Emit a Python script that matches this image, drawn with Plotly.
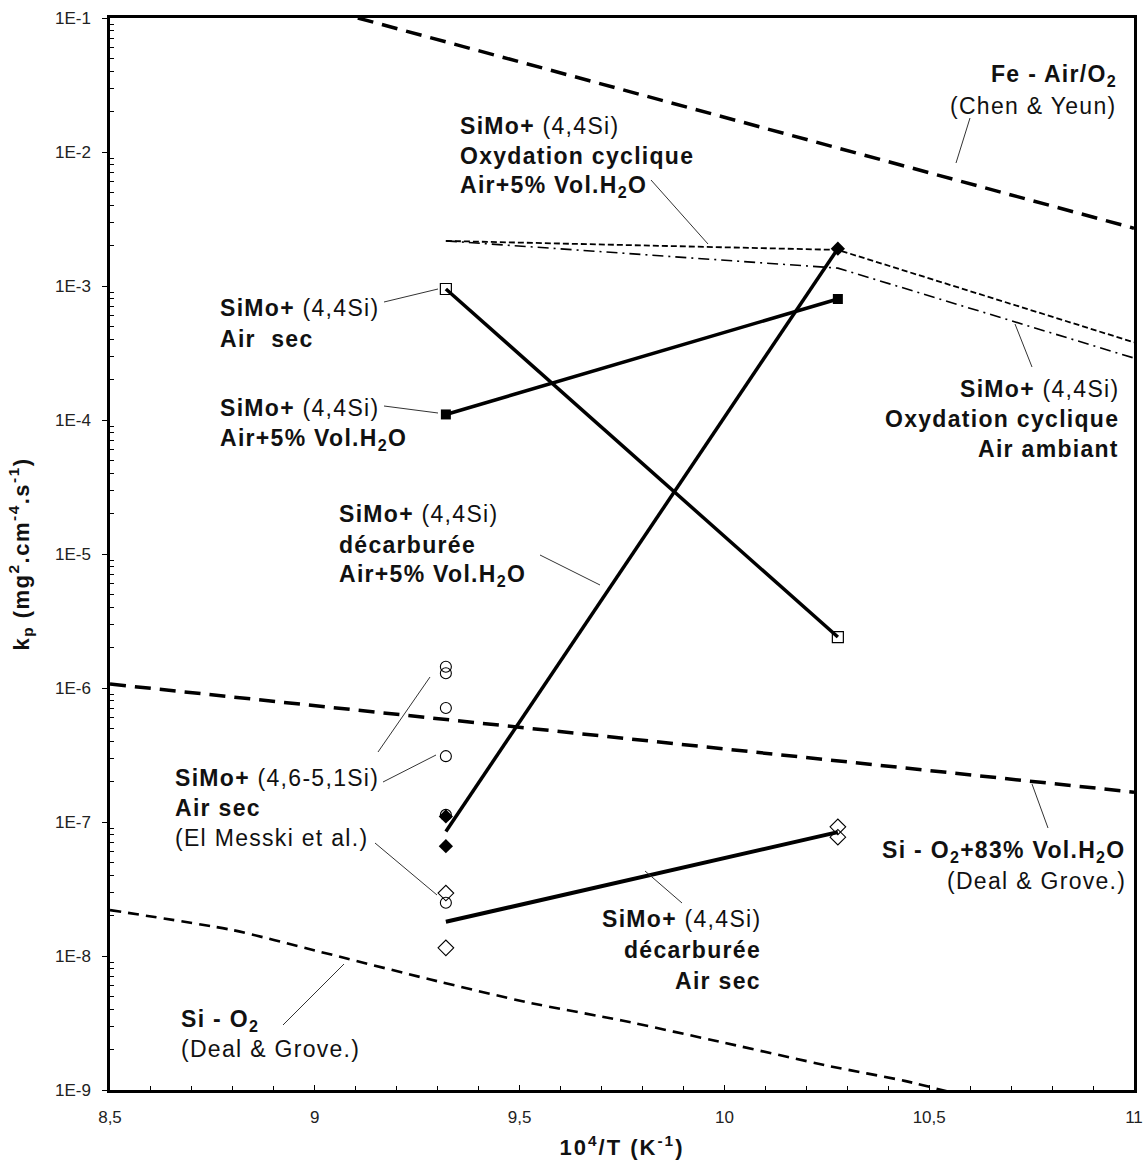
import plotly.graph_objects as go

# ---------------- data ----------------
x_T = [9.32, 10.277]   # 10^4/T for 800 and 700 °C

airsec_y = [9.5e-4, 2.4e-6]            # SiMo+ (4,4Si) Air sec (open squares)
airh2o_y = [1.1e-4, 8.0e-4]            # SiMo+ (4,4Si) Air+5% H2O (filled squares)

decarb_h2o_x = [9.32, 9.32, 10.277]    # décarburée Air+5% H2O (filled diamonds)
decarb_h2o_y = [1.1e-7, 6.6e-8, 1.9e-3]
decarb_h2o_fit = [8.5e-8, 1.9e-3]

decarb_sec_x = [9.32, 9.32, 10.277, 10.277]   # décarburée Air sec (open diamonds)
decarb_sec_y = [2.95e-8, 1.15e-8, 9.2e-8, 7.7e-8]
decarb_sec_fit = [1.8e-8, 8.4e-8]

messki_x = [9.32, 9.32, 9.32, 9.32, 9.32, 9.32]   # El Messki et al. (open circles)
messki_y = [1.44e-6, 1.29e-6, 7.1e-7, 3.1e-7, 1.13e-7, 2.5e-8]

cyc_x = [9.32, 10.277, 11.0]
cyc_h2o_y = [2.17e-3, 1.86e-3, 3.8e-4]     # Oxydation cyclique Air+5% H2O
cyc_amb_y = [2.17e-3, 1.36e-3, 2.9e-4]     # Oxydation cyclique Air ambiant

fe_x = [9.105, 11.0]                        # Fe - Air/O2 (Chen & Yeun)
fe_y = [1.0e-1, 2.7e-3]

si_h2o_x = [8.5, 11.0]                      # Si - O2+83% H2O (Deal & Grove)
si_h2o_y = [1.07e-6, 1.67e-7]

si_o2_x = [8.5, 8.8, 9.0, 9.28, 9.52, 9.75, 10.0, 10.26, 10.44, 10.56]   # Si - O2 (Deal & Grove)
si_o2_y = [2.2e-8, 1.56e-8, 1.1e-8, 6.7e-9, 4.5e-9, 3.3e-9, 2.25e-9, 1.5e-9, 1.17e-9, 9.5e-10]

x_ticks = [8.5, 9.0, 9.5, 10.0, 10.5, 11.0]
x_ticktext = ["8,5", "9", "9,5", "10", "10,5", "11"]
y_ticks = [1e-9, 1e-8, 1e-7, 1e-6, 1e-5, 1e-4, 1e-3, 1e-2, 1e-1]
y_ticktext = ["1E-9", "1E-8", "1E-7", "1E-6", "1E-5", "1E-4", "1E-3", "1E-2", "1E-1"]
y_minor = [m * 10.0 ** e for e in range(-9, -1) for m in range(2, 10)]

# ---------------- figure ----------------
fig = go.Figure()
K = "black"

# reference lines
fig.add_trace(go.Scatter(x=fe_x, y=fe_y, mode="lines",
                         line=dict(color=K, width=3.5, dash="16px,9px")))
fig.add_trace(go.Scatter(x=si_h2o_x, y=si_h2o_y, mode="lines",
                         line=dict(color=K, width=3.5, dash="16px,9px")))
fig.add_trace(go.Scatter(x=si_o2_x, y=si_o2_y, mode="lines", line_shape="spline",
                         line=dict(color=K, width=2.6, dash="11px,7px", smoothing=0.6)))
fig.add_trace(go.Scatter(x=cyc_x, y=cyc_h2o_y, mode="lines",
                         line=dict(color=K, width=1.8, dash="6px,3px")))
fig.add_trace(go.Scatter(x=cyc_x, y=cyc_amb_y, mode="lines",
                         line=dict(color=K, width=1.6, dash="11px,5px,2px,5px")))

# experimental series
fig.add_trace(go.Scatter(x=x_T, y=airsec_y, mode="lines+markers",
                         line=dict(color=K, width=3.5),
                         marker=dict(symbol="square-open", size=11, color=K,
                                     line=dict(width=1.2))))
fig.add_trace(go.Scatter(x=x_T, y=airh2o_y, mode="lines+markers",
                         line=dict(color=K, width=3.5),
                         marker=dict(symbol="square", size=10, color=K)))
fig.add_trace(go.Scatter(x=x_T, y=decarb_h2o_fit, mode="lines",
                         line=dict(color=K, width=3.5)))
fig.add_trace(go.Scatter(x=decarb_h2o_x, y=decarb_h2o_y, mode="markers",
                         marker=dict(symbol="diamond", size=11, color=K)))
fig.add_trace(go.Scatter(x=x_T, y=decarb_sec_fit, mode="lines",
                         line=dict(color=K, width=4)))
fig.add_trace(go.Scatter(x=decarb_sec_x, y=decarb_sec_y, mode="markers",
                         marker=dict(symbol="diamond-open", size=12, color=K,
                                     line=dict(width=1.1))))
fig.add_trace(go.Scatter(x=messki_x, y=messki_y, mode="markers",
                         marker=dict(symbol="circle-open", size=11, color=K,
                                     line=dict(width=1.1))))

# ---------------- annotations ----------------
L, T, W, H = 110, 18, 1024, 1072
def px(p):
    return (p - L) / W
def py(p):
    return (T + H - p) / H

FONT = "Liberation Sans, Arial, sans-serif"
FS = 23
LS = "letter-spacing:1.3px"
def sp(t):
    return "<span style='%s'>%s</span>" % (LS, t)

H2O = "H<sub>2</sub>O"
blocks = [
    (1119, "right", [(76, "<b>Fe - Air/O<sub>2</sub></b>"), (106, "(Chen & Yeun)")]),
    (458, "left", [(126, "<b>SiMo+</b> (4,4Si)"), (156, "<b>Oxydation cyclique</b>"),
                   (186, "<b>Air+5% Vol." + H2O + "</b>")]),
    (218, "left", [(308, "<b>SiMo+</b> (4,4Si)"), (339, "<b>Air  sec</b>")]),
    (218, "left", [(408, "<b>SiMo+</b> (4,4Si)"), (439, "<b>Air+5% Vol." + H2O + "</b>")]),
    (1121, "right", [(389, "<b>SiMo+</b> (4,4Si)"), (419, "<b>Oxydation cyclique</b>"),
                     (449, "<b>Air ambiant</b>")]),
    (337, "left", [(514, "<b>SiMo+</b> (4,4Si)"), (545, "<b>décarburée</b>"),
                   (575, "<b>Air+5% Vol." + H2O + "</b>")]),
    (173, "left", [(778, "<b>SiMo+</b> (4,6-5,1Si)"), (808, "<b>Air sec</b>"),
                   (838, "(El Messki et al.)")]),
    (763, "right", [(919, "<b>SiMo+</b> (4,4Si)"), (950, "<b>décarburée</b>"),
                    (981, "<b>Air sec</b>")]),
    (1128, "right", [(851, "<b>Si - O<sub>2</sub>+83% Vol." + H2O + "</b>"),
                     (881, "(Deal & Grove.)")]),
    (179, "left", [(1020, "<b>Si - O<sub>2</sub></b>"), (1049, "(Deal & Grove.)")]),
]
annotations = []
for x, al, lines in blocks:
    for y, txt in lines:
        annotations.append(dict(x=px(x), y=py(y), xref="paper", yref="paper",
                                text=sp(txt), showarrow=False, xanchor=al, yanchor="middle",
                                align=al, font=dict(family=FONT, size=FS, color="#111")))

leaders = [
    ((970, 118), (956, 163)),
    ((651, 180), (708, 244)),
    ((384, 302), (438, 289)),
    ((384, 406), (438, 413)),
    ((1032, 367), (1015, 324)),
    ((540, 555), (600, 585)),
    ((378, 752), (430, 677)),
    ((383, 782), (436, 755)),
    ((375, 843), (437, 895)),
    ((682, 903), (645, 871)),
    ((1048, 828), (1032, 784)),
    ((283, 1025), (344, 964)),
]
shapes = []
for (x0, y0), (x1, y1) in leaders:
    shapes.append(dict(type="line", xref="paper", yref="paper",
                       x0=px(x0), y0=py(y0), x1=px(x1), y1=py(y1),
                       line=dict(color="#333", width=1)))

fig.update_layout(
    width=1148, height=1160,
    margin=dict(l=L, r=1148 - L - W, t=T, b=1160 - T - H),
    plot_bgcolor="white", paper_bgcolor="white",
    showlegend=False,
    annotations=annotations, shapes=shapes,
    font=dict(family=FONT, color="#222"),
)
fig.update_xaxes(
    range=[8.5, 11], tickvals=x_ticks, ticktext=x_ticktext, automargin=False,
    showline=True, linecolor=K, linewidth=2.5, mirror=True,
    ticks="inside", ticklen=5, tickwidth=1.2, tickcolor=K,
    minor=dict(ticks="inside", ticklen=4, dtick=0.1, tickcolor=K, tickwidth=1.2, showgrid=False),
    showgrid=False, zeroline=False,
    tickfont=dict(size=17, color="#222"), ticklabelstandoff=10,
    title=dict(text="<span style='letter-spacing:2px'><b>10<sup>4</sup>/T (K<sup>-1</sup>)</b></span>",
               font=dict(size=22, color="#111"), standoff=14),
)
fig.update_yaxes(
    type="log", range=[-9, -1], tickvals=y_ticks, ticktext=y_ticktext, automargin=False,
    showline=True, linecolor=K, linewidth=2.5, mirror=True,
    ticks="outside", ticklen=5, tickwidth=1.2, tickcolor=K,
    minor=dict(ticks="inside", ticklen=4, tickvals=y_minor, tickcolor=K, tickwidth=1.2, showgrid=False),
    showgrid=False, zeroline=False,
    tickfont=dict(size=17, color="#222"), ticklabelstandoff=8,
    title=dict(text="<span style='letter-spacing:1.5px'><b>k<sub>p</sub> (mg<sup>2</sup>.cm<sup>-4</sup>.s<sup>-1</sup>)</b></span>",
               font=dict(size=22, color="#111"), standoff=20),
)

fig.write_html("out.html", config={"displayModeBar": False},
               post_script="document.body.style.margin='0';")
